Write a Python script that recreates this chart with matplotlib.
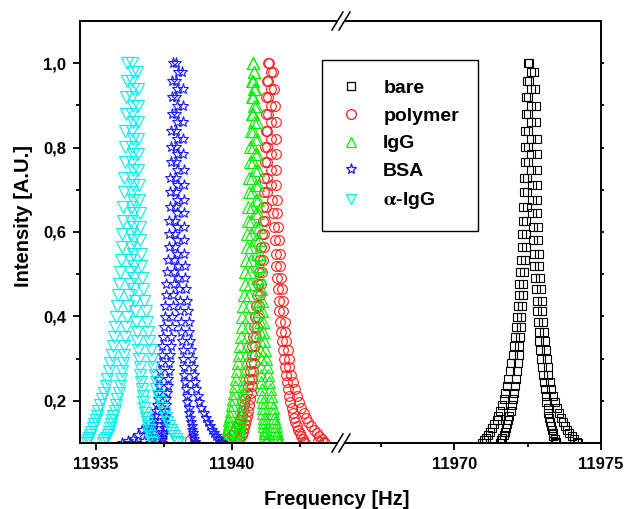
import matplotlib
matplotlib.use("Agg")
import matplotlib.pyplot as plt
from matplotlib.lines import Line2D
from matplotlib.ticker import FixedLocator, FuncFormatter

plt.rcParams['font.family'] = ['Liberation Sans', 'DejaVu Sans']
plt.rcParams['font.weight'] = 'bold'
plt.rcParams['mathtext.fontset'] = 'stix'

# Normalised intensity at each recorded point of the rising and falling flank
rise_levels = [0.100, 0.106, 0.112, 0.119, 0.127, 0.135, 0.144, 0.154, 0.165, 0.177,
               0.190, 0.204, 0.219, 0.235, 0.252, 0.270, 0.289, 0.309, 0.330, 0.352,
               0.375, 0.399, 0.424, 0.450, 0.477, 0.505, 0.534, 0.564, 0.595, 0.627,
               0.660, 0.694, 0.729, 0.765, 0.802, 0.840, 0.879, 0.919, 0.959, 1.000]
fall_levels = [0.980, 0.939, 0.899, 0.860, 0.821, 0.784, 0.747, 0.712, 0.677, 0.644,
               0.611, 0.580, 0.549, 0.520, 0.491, 0.464, 0.437, 0.412, 0.387, 0.364,
               0.341, 0.320, 0.299, 0.280, 0.261, 0.244, 0.227, 0.212, 0.197, 0.184,
               0.171, 0.160, 0.149, 0.140, 0.131, 0.123, 0.116, 0.109, 0.103, 0.100]

# Resonance frequencies (Hz), two sweeps per flank
bare_rise_outer = [11970.94, 11971.00, 11971.07, 11971.14, 11971.21, 11971.29, 11971.37, 11971.44, 11971.50, 11971.56,
                   11971.63, 11971.68, 11971.73, 11971.78, 11971.84, 11971.90, 11971.94, 11971.99, 11972.04, 11972.08,
                   11972.11, 11972.14, 11972.17, 11972.20, 11972.22, 11972.24, 11972.27, 11972.30, 11972.32, 11972.33,
                   11972.35, 11972.37, 11972.38, 11972.40, 11972.41, 11972.42, 11972.43, 11972.45, 11972.48, 11972.51]
bare_rise_inner = [11971.56, 11971.60, 11971.64, 11971.68, 11971.72, 11971.76, 11971.80, 11971.84, 11971.88, 11971.92,
                   11971.97, 11972.00, 11972.03, 11972.06, 11972.10, 11972.14, 11972.17, 11972.19, 11972.22, 11972.25,
                   11972.27, 11972.29, 11972.31, 11972.33, 11972.35, 11972.37, 11972.40, 11972.43, 11972.45, 11972.46,
                   11972.47, 11972.48, 11972.49, 11972.50, 11972.51, 11972.51, 11972.51, 11972.52, 11972.53, 11972.55]
bare_fall_inner = [11972.61, 11972.61, 11972.61, 11972.61, 11972.61, 11972.62, 11972.63, 11972.65, 11972.66, 11972.66,
                   11972.67, 11972.68, 11972.71, 11972.73, 11972.76, 11972.78, 11972.81, 11972.83, 11972.85, 11972.87,
                   11972.90, 11972.92, 11972.95, 11972.98, 11973.03, 11973.06, 11973.08, 11973.11, 11973.14, 11973.18,
                   11973.21, 11973.24, 11973.26, 11973.29, 11973.32, 11973.35, 11973.38, 11973.42, 11973.45, 11973.47]
bare_fall_outer = [11972.70, 11972.74, 11972.78, 11972.80, 11972.81, 11972.82, 11972.82, 11972.82, 11972.83, 11972.83,
                   11972.84, 11972.85, 11972.88, 11972.90, 11972.93, 11972.95, 11972.98, 11973.00, 11973.03, 11973.07,
                   11973.10, 11973.12, 11973.15, 11973.18, 11973.21, 11973.26, 11973.31, 11973.37, 11973.44, 11973.50,
                   11973.57, 11973.64, 11973.71, 11973.78, 11973.85, 11973.92, 11974.00, 11974.09, 11974.18, 11974.22]

polymer_rise_outer = [11939.64, 11939.75, 11939.86, 11939.99, 11940.08, 11940.16, 11940.24, 11940.32, 11940.36, 11940.40,
                      11940.45, 11940.50, 11940.56, 11940.59, 11940.63, 11940.67, 11940.70, 11940.73, 11940.76, 11940.79,
                      11940.82, 11940.86, 11940.89, 11940.93, 11940.97, 11941.01, 11941.05, 11941.09, 11941.12, 11941.14,
                      11941.16, 11941.18, 11941.19, 11941.21, 11941.22, 11941.24, 11941.25, 11941.27, 11941.30, 11941.33]
polymer_rise_inner = [11940.23, 11940.27, 11940.32, 11940.37, 11940.41, 11940.45, 11940.49, 11940.53, 11940.56, 11940.59,
                      11940.63, 11940.67, 11940.71, 11940.73, 11940.75, 11940.78, 11940.81, 11940.84, 11940.87, 11940.90,
                      11940.93, 11940.97, 11941.01, 11941.04, 11941.08, 11941.11, 11941.14, 11941.17, 11941.19, 11941.22,
                      11941.25, 11941.28, 11941.29, 11941.29, 11941.29, 11941.31, 11941.32, 11941.34, 11941.35, 11941.37]
polymer_fall_inner = [11941.43, 11941.45, 11941.44, 11941.43, 11941.45, 11941.44, 11941.44, 11941.45, 11941.47, 11941.51,
                      11941.55, 11941.59, 11941.62, 11941.64, 11941.67, 11941.70, 11941.72, 11941.75, 11941.79, 11941.82,
                      11941.86, 11941.89, 11941.92, 11941.95, 11941.98, 11942.02, 11942.05, 11942.10, 11942.15, 11942.20,
                      11942.25, 11942.29, 11942.33, 11942.38, 11942.44, 11942.49, 11942.55, 11942.61, 11942.66, 11942.69]
polymer_fall_outer = [11941.50, 11941.55, 11941.59, 11941.61, 11941.62, 11941.63, 11941.63, 11941.63, 11941.65, 11941.68,
                      11941.71, 11941.74, 11941.77, 11941.79, 11941.82, 11941.85, 11941.87, 11941.90, 11941.94, 11941.97,
                      11942.01, 11942.05, 11942.09, 11942.12, 11942.18, 11942.25, 11942.33, 11942.40, 11942.48, 11942.55,
                      11942.65, 11942.73, 11942.81, 11942.92, 11943.03, 11943.13, 11943.22, 11943.31, 11943.39, 11943.43]
polymer_tail_freq = [11938.46, 11939.57, 11943.17]
polymer_tail_int = [0.107, 0.105, 0.105]

igg_rise_outer = [11939.71, 11939.73, 11939.76, 11939.79, 11939.82, 11939.85, 11939.88, 11939.91, 11939.94, 11939.97,
                  11940.01, 11940.04, 11940.08, 11940.11, 11940.15, 11940.19, 11940.23, 11940.27, 11940.31, 11940.35,
                  11940.37, 11940.39, 11940.41, 11940.44, 11940.47, 11940.49, 11940.52, 11940.55, 11940.57, 11940.59,
                  11940.61, 11940.63, 11940.64, 11940.66, 11940.67, 11940.70, 11940.73, 11940.75, 11940.76, 11940.78]
igg_rise_inner = [11940.15, 11940.17, 11940.20, 11940.23, 11940.25, 11940.27, 11940.29, 11940.31, 11940.33, 11940.35,
                  11940.38, 11940.39, 11940.41, 11940.43, 11940.46, 11940.49, 11940.51, 11940.53, 11940.55, 11940.57,
                  11940.59, 11940.61, 11940.63, 11940.65, 11940.66, 11940.67, 11940.69, 11940.70, 11940.71, 11940.72,
                  11940.73, 11940.74, 11940.75, 11940.77, 11940.78, 11940.78, 11940.79, 11940.77, 11940.78, 11940.78]
igg_fall_inner = [11940.82, 11940.82, 11940.82, 11940.83, 11940.84, 11940.86, 11940.87, 11940.88, 11940.89, 11940.89,
                  11940.89, 11940.89, 11940.91, 11940.92, 11940.94, 11940.96, 11940.99, 11941.00, 11941.02, 11941.03,
                  11941.04, 11941.05, 11941.06, 11941.07, 11941.08, 11941.09, 11941.11, 11941.12, 11941.14, 11941.15,
                  11941.16, 11941.17, 11941.18, 11941.19, 11941.21, 11941.22, 11941.23, 11941.24, 11941.25, 11941.26]
igg_fall_outer = [11940.83, 11940.86, 11940.89, 11940.91, 11940.92, 11940.94, 11940.95, 11940.96, 11940.97, 11940.98,
                  11940.99, 11941.00, 11941.02, 11941.03, 11941.05, 11941.07, 11941.10, 11941.12, 11941.14, 11941.16,
                  11941.19, 11941.22, 11941.25, 11941.28, 11941.35, 11941.38, 11941.40, 11941.43, 11941.46, 11941.50,
                  11941.53, 11941.56, 11941.59, 11941.61, 11941.63, 11941.65, 11941.68, 11941.70, 11941.73, 11941.74]

bsa_rise_outer = [11937.00, 11937.02, 11937.04, 11937.07, 11937.09, 11937.11, 11937.13, 11937.15, 11937.18, 11937.21,
                  11937.25, 11937.27, 11937.29, 11937.31, 11937.33, 11937.36, 11937.39, 11937.42, 11937.45, 11937.48,
                  11937.50, 11937.53, 11937.55, 11937.58, 11937.60, 11937.62, 11937.65, 11937.68, 11937.69, 11937.71,
                  11937.72, 11937.73, 11937.74, 11937.76, 11937.77, 11937.78, 11937.79, 11937.81, 11937.82, 11937.84]
bsa_rise_inner = [11937.43, 11937.44, 11937.45, 11937.47, 11937.48, 11937.49, 11937.50, 11937.52, 11937.54, 11937.56,
                  11937.58, 11937.60, 11937.62, 11937.64, 11937.66, 11937.69, 11937.71, 11937.73, 11937.75, 11937.78,
                  11937.80, 11937.82, 11937.84, 11937.85, 11937.87, 11937.88, 11937.89, 11937.90, 11937.91, 11937.93,
                  11937.94, 11937.95, 11937.95, 11937.96, 11937.94, 11937.95, 11937.96, 11937.94, 11937.95, 11937.96]
bsa_fall_inner = [11938.01, 11938.00, 11937.99, 11937.99, 11937.99, 11937.99, 11937.99, 11937.99, 11937.99, 11937.99,
                  11937.99, 11937.99, 11938.00, 11938.01, 11938.03, 11938.06, 11938.08, 11938.11, 11938.13, 11938.15,
                  11938.17, 11938.19, 11938.21, 11938.23, 11938.25, 11938.28, 11938.31, 11938.34, 11938.37, 11938.41,
                  11938.44, 11938.47, 11938.50, 11938.53, 11938.55, 11938.57, 11938.59, 11938.62, 11938.64, 11938.65]
bsa_fall_outer = [11938.18, 11938.19, 11938.21, 11938.21, 11938.21, 11938.21, 11938.23, 11938.24, 11938.24, 11938.24,
                  11938.24, 11938.24, 11938.26, 11938.27, 11938.29, 11938.33, 11938.37, 11938.40, 11938.42, 11938.44,
                  11938.47, 11938.50, 11938.53, 11938.56, 11938.61, 11938.65, 11938.70, 11938.75, 11938.80, 11938.87,
                  11938.97, 11939.05, 11939.14, 11939.20, 11939.27, 11939.33, 11939.41, 11939.51, 11939.60, 11939.64]
bsa_tail_freq = [11935.96, 11936.18, 11936.37, 11936.55, 11936.70, 11936.85, 11937.00, 11937.18,
                 11936.48, 11936.78, 11937.10, 11936.25]
bsa_tail_int = [0.10, 0.105, 0.11, 0.12, 0.13, 0.135, 0.13, 0.125, 0.10, 0.105, 0.11, 0.10]

aigg_rise_outer = [11934.68, 11934.71, 11934.75, 11934.79, 11934.83, 11934.88, 11934.93, 11934.99, 11935.04, 11935.10,
                   11935.16, 11935.23, 11935.30, 11935.36, 11935.42, 11935.49, 11935.54, 11935.58, 11935.63, 11935.68,
                   11935.71, 11935.75, 11935.79, 11935.82, 11935.86, 11935.89, 11935.92, 11935.95, 11935.97, 11935.99,
                   11936.01, 11936.04, 11936.05, 11936.06, 11936.07, 11936.09, 11936.10, 11936.12, 11936.13, 11936.15]
aigg_rise_inner = [11935.27, 11935.32, 11935.38, 11935.44, 11935.49, 11935.53, 11935.57, 11935.61, 11935.65, 11935.69,
                   11935.74, 11935.79, 11935.85, 11935.88, 11935.92, 11935.96, 11935.99, 11936.02, 11936.05, 11936.08,
                   11936.11, 11936.15, 11936.18, 11936.21, 11936.24, 11936.26, 11936.27, 11936.28, 11936.29, 11936.31,
                   11936.32, 11936.33, 11936.32, 11936.34, 11936.33, 11936.32, 11936.34, 11936.33, 11936.32, 11936.33]
aigg_fall_inner = [11936.37, 11936.38, 11936.38, 11936.37, 11936.37, 11936.37, 11936.37, 11936.37, 11936.37, 11936.37,
                   11936.37, 11936.37, 11936.38, 11936.39, 11936.40, 11936.42, 11936.43, 11936.45, 11936.48, 11936.50,
                   11936.53, 11936.56, 11936.59, 11936.61, 11936.64, 11936.67, 11936.69, 11936.72, 11936.75, 11936.79,
                   11936.82, 11936.85, 11936.88, 11936.91, 11936.93, 11936.95, 11936.98, 11937.02, 11937.05, 11937.07]
aigg_fall_outer = [11936.53, 11936.54, 11936.55, 11936.55, 11936.55, 11936.56, 11936.57, 11936.59, 11936.60, 11936.61,
                   11936.62, 11936.63, 11936.66, 11936.68, 11936.71, 11936.75, 11936.79, 11936.83, 11936.88, 11936.92,
                   11936.97, 11937.02, 11937.07, 11937.12, 11937.16, 11937.20, 11937.23, 11937.29, 11937.37, 11937.43,
                   11937.50, 11937.57, 11937.63, 11937.69, 11937.76, 11937.82, 11937.88, 11937.94, 11937.99, 11938.02]

x_major_left = [11935, 11940]
x_minor_left = [11937.5, 11942.5]
x_major_right = [11970, 11975]
x_minor_right = [11967.5, 11972.5]
y_major = [0.2, 0.4, 0.6, 0.8, 1.0]
y_minor = [0.3, 0.5, 0.7, 0.9]

W, H = 625, 509
fig = plt.figure(figsize=(W / 100, H / 100), dpi=100)


def fx(px):
    return px / W


def fy(py):
    return 1 - py / H


# Two panels sharing the intensity scale, separated by an axis break
ax_l = fig.add_axes([fx(80), fy(443), fx(336) - fx(80), fy(21) - fy(443)])
ax_r = fig.add_axes([fx(345), fy(443), fx(601) - fx(345), fy(21) - fy(443)])

ax_l.set_xlim(11934.42, 11934.42 + (336 - 80) / 27.2)
ax_r.set_xlim(11970 - (454.3 - 345) / 29.34, 11975)
for ax in (ax_l, ax_r):
    ax.set_ylim(0.1, 1.1)
    for s in ax.spines.values():
        s.set_linewidth(1.4)

ax_l.spines['right'].set_visible(False)
ax_r.spines['left'].set_visible(False)


def series(ro, ri, fi, fo):
    xs = list(ro) + list(ri) + list(fi) + list(fo)
    ys = rise_levels + rise_levels + fall_levels + fall_levels
    return xs, ys


styles = {
    'bare': dict(color='black', marker='s', ms=5.5),
    'polymer': dict(color='#ff1a1a', marker='o', ms=7),
    'IgG': dict(color='#00ee00', marker='^', ms=8),
    'BSA': dict(color='#1a1aff', marker='*', ms=8),
    'aIgG': dict(color='#00eeee', marker='v', ms=8),
}


def draw(ax, xs, ys, st):
    ax.plot(xs, ys, linestyle='none', marker=st['marker'], ms=st['ms'], mfc='none',
            mec=st['color'], mew=0.8)


xs, ys = series(bare_rise_outer, bare_rise_inner, bare_fall_inner, bare_fall_outer)
draw(ax_r, xs, ys, styles['bare'])

xs, ys = series(polymer_rise_outer, polymer_rise_inner, polymer_fall_inner, polymer_fall_outer)
draw(ax_l, xs + polymer_tail_freq, ys + polymer_tail_int, styles['polymer'])

xs, ys = series(igg_rise_outer, igg_rise_inner, igg_fall_inner, igg_fall_outer)
draw(ax_l, xs, ys, styles['IgG'])

xs, ys = series(bsa_rise_outer, bsa_rise_inner, bsa_fall_inner, bsa_fall_outer)
draw(ax_l, xs + bsa_tail_freq, ys + bsa_tail_int, styles['BSA'])

xs, ys = series(aigg_rise_outer, aigg_rise_inner, aigg_fall_inner, aigg_fall_outer)
draw(ax_l, xs, ys, styles['aIgG'])

# Axis ticks
int_fmt = FuncFormatter(lambda v, p: f"{v:.0f}")
comma_fmt = FuncFormatter(lambda v, p: f"{v:.1f}".replace('.', ','))

ax_l.xaxis.set_major_locator(FixedLocator(x_major_left))
ax_l.xaxis.set_minor_locator(FixedLocator(x_minor_left))
ax_r.xaxis.set_major_locator(FixedLocator(x_major_right))
ax_r.xaxis.set_minor_locator(FixedLocator(x_minor_right))
for ax in (ax_l, ax_r):
    ax.xaxis.set_major_formatter(int_fmt)
    ax.yaxis.set_major_locator(FixedLocator(y_major))
    ax.yaxis.set_minor_locator(FixedLocator(y_minor))
    ax.tick_params(axis='x', which='major', direction='out', length=5, width=1.3,
                   labelsize=12, pad=5)
    ax.tick_params(axis='x', which='minor', direction='out', length=3, width=1.3)

ax_l.yaxis.set_major_formatter(comma_fmt)
ax_l.tick_params(axis='y', which='major', direction='out', length=5, width=1.3,
                 labelsize=12, pad=5)
ax_l.tick_params(axis='y', which='minor', direction='out', length=3, width=1.3)
ax_r.tick_params(axis='y', which='both', left=False, right=True, labelleft=False,
                 direction='out', length=2.5, width=1.3)

for lab in ax_l.get_xticklabels() + ax_l.get_yticklabels() + ax_r.get_xticklabels():
    lab.set_fontweight('bold')

# Axis break marks on the top and bottom frame
for yb in (21, 443):
    for x0 in (332, 339):
        fig.add_artist(Line2D([fx(x0), fx(x0 + 11)], [fy(yb + 9), fy(yb - 9)],
                              transform=fig.transFigure, color='black', lw=1.1))

fig.text(fx(24), fy(216), 'Intensity [A.U.]', rotation=90, ha='center', va='center',
         fontsize=14.5, fontweight='bold')
fig.text(fx(337), fy(505), 'Frequency [Hz]', ha='center', va='baseline',
         fontsize=14.5, fontweight='bold')

# Legend
labels = ['bare', 'polymer', 'IgG', 'BSA', r'$\mathrm{\alpha}$-IgG']
keys = ['bare', 'polymer', 'IgG', 'BSA', 'aIgG']
legend_ms = {'bare': 6, 'polymer': 7, 'IgG': 7.5, 'BSA': 8, 'aIgG': 7.5}
handles = [Line2D([], [], linestyle='none', marker=styles[k]['marker'], ms=legend_ms[k],
                  mfc='none', mec=styles[k]['color'], mew=0.9) for k in keys]
leg = fig.legend(handles, labels, loc='upper left', bbox_to_anchor=(fx(322), fy(60)),
                 bbox_transform=fig.transFigure, frameon=True, fancybox=False,
                 edgecolor='black', framealpha=1, borderpad=1.0, handlelength=1.0,
                 handletextpad=1.15, labelspacing=0.52, borderaxespad=0,
                 prop=dict(family=['Liberation Sans', 'DejaVu Sans'], weight='bold', size=14))
leg.get_frame().set_linewidth(1.0)

fig.savefig('out.png', dpi=100)
